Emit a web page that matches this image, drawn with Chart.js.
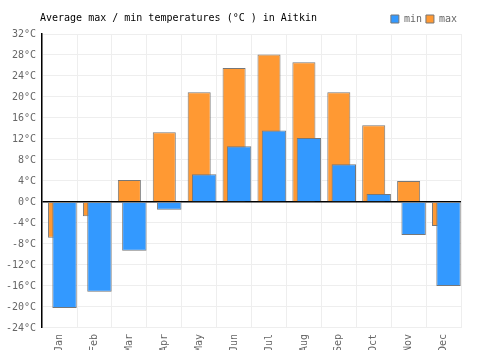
<!DOCTYPE html>
<html>
<head>
<meta charset="utf-8">
<script src="https://cdn.jsdelivr.net/npm/chart.js@4"></script>
<style>
  html, body { margin: 0; padding: 0; background: #fff; }
  #wrap { width: 500px; height: 350px; }
</style>
</head>
<body>
<div id="wrap"><canvas id="graphicTemps" width="500" height="350"></canvas></div>
<script>
// Average max / min temperatures - Aitkin

const chartTitle = 'Average max / min temperatures (°C ) in Aitkin';
const months = ['Jan', 'Feb', 'Mar', 'Apr', 'May', 'Jun', 'Jul', 'Aug', 'Sep', 'Oct', 'Nov', 'Dec'];
const minTemps = [-20.2, -17.1, -9.3, -1.5, 5.3, 10.6, 13.6, 12.2, 7.2, 1.5, -6.3, -16.0];
const maxTemps = [-6.8, -2.7, 4.2, 13.3, 20.9, 25.5, 28.1, 26.6, 20.9, 14.6, 4.0, -4.6];
const yMin = -24;
const yMax = 32;
const yStep = 4;

const FONT = '"DejaVu Sans Mono", "Liberation Mono", monospace';

// title on the same row as the legend
const titlePlugin = {
  id: 'sideTitle',
  afterDraw(chart) {
    const ctx = chart.ctx;
    ctx.save();
    ctx.font = '10px ' + FONT;
    ctx.fillStyle = '#000';
    ctx.textBaseline = 'middle';
    ctx.textAlign = 'left';
    ctx.fillText(chartTitle, 40, 18);
    ctx.restore();
  }
};

let chart1;
function drawChart() {
  var ctx = document.getElementById('graphicTemps').getContext('2d');
  if (chart1) {
    chart1.destroy();
  }

  chart1 = new Chart(ctx, {
    type: 'bar',
    data: {
      labels: months,
      datasets: [
        {
          // empty spacer so min bars sit right of center
          label: '',
          data: [],
          order: 0
        },
        {
          label: 'min',
          data: minTemps,
          backgroundColor: '#3399ff',
          borderColor: '#777777',
          borderWidth: 1,
          categoryPercentage: 0.571,
          barPercentage: 2.45,
          order: 1
        },
        {
          label: 'max',
          data: maxTemps,
          backgroundColor: '#ff9933',
          borderColor: '#777777',
          borderWidth: 1,
          grouped: false,
          categoryPercentage: 1,
          barPercentage: 0.66,
          order: 2
        }
      ]
    },
    options: {
      responsive: false,
      animation: false,
      layout: {
        padding: { left: 0, right: 39, top: 10, bottom: -8 }
      },
      plugins: {
        tooltip: { enabled: false },
        title: { display: false },
        legend: {
          display: true,
          position: 'top',
          align: 'end',
          labels: {
            boxWidth: 8,
            boxHeight: 8,
            padding: 4,
            color: '#666',
            font: { family: FONT, size: 10 },
            filter: function(item) {
              return item.text !== '';
            }
          }
        }
      },
      scales: {
        x: {
          grid: {
            color: '#eeeeee',
            drawTicks: false,
            offset: true
          },
          border: { display: false },
          ticks: {
            color: '#666',
            font: { family: FONT, size: 10 },
            maxRotation: 90,
            minRotation: 90,
            padding: 6
          }
        },
        y: {
          min: yMin,
          max: yMax,
          grid: {
            color: function(c) {
              return c.tick && c.tick.value === 0 ? '#000000' : '#eeeeee';
            },
            lineWidth: function(c) {
              return c.tick && c.tick.value === 0 ? 1.5 : 1;
            },
            drawTicks: false
          },
          border: { display: true, color: '#000', width: 1.5 },
          ticks: {
            stepSize: yStep,
            color: '#666',
            font: { family: FONT, size: 10 },
            padding: 6,
            callback: function(v) {
              return v + '°C';
            }
          }
        }
      }
    },
    plugins: [titlePlugin]
  });
}

drawChart();
</script>
</body>
</html>
